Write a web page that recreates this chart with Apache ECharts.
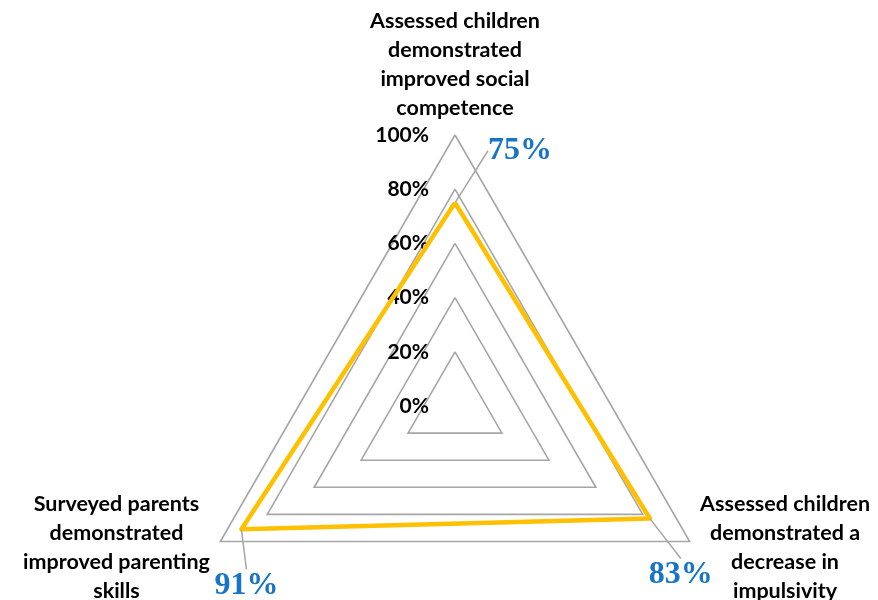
<!DOCTYPE html>
<html><head><meta charset="utf-8">
<script src="https://cdn.jsdelivr.net/npm/echarts@6/dist/echarts.min.js"></script>
<style>html,body{margin:0;padding:0;background:#fff}#c{width:878px;height:600px}</style>
</head><body><div id="c"></div>
<script>
// Indicators in ECharts order (counter-clockwise from top)
const categories = [
  'Assessed children\ndemonstrated\nimproved social\ncompetence',
  'Surveyed parents\ndemonstrated\nimproved parenting\nskills',
  'Assessed children\ndemonstrated a\ndecrease in\nimpulsivity'
];
const values = [75, 91, 83];
const tickLabels = ['0%', '20%', '40%', '60%', '80%', '100%'];
const labelOffsets = [[65, -52], [5, 56], [31, 56]];

const chart = echarts.init(document.getElementById('c'), null, {renderer: 'canvas'});
const valueTexts = values.map(v => v + '%');
chart.setOption({
  animation: false,
  backgroundColor: '#fff',
  radar: {
    center: [455, 406],
    radius: 271,
    startAngle: 90,
    shape: 'polygon',
    splitNumber: 5,
    nameGap: 12,
    indicator: categories.map((c, i) => ({
      name: c, min: 0, max: 100,
      axisLabel: {show: i === 0}
    })),
    axisName: {
      formatter: (name) => name.split('\n').map(s => '{n|' + s + '}').join('\n'),
      rich: {
        n: {fontFamily: 'Lato', fontWeight: 'bold', fontSize: 21.5, lineHeight: 29, color: '#000', align: 'center'}
      }
    },
    axisLine: {show: false},
    axisTick: {show: false},
    axisLabel: {
      show: false,
      margin: 26,
      formatter: (v) => tickLabels[Math.round(v / 20)],
      fontFamily: 'Lato', fontWeight: 'bold', fontSize: 21, color: '#000'
    },
    splitLine: {lineStyle: {color: '#a6a6a6', width: 1.6}},
    splitArea: {show: false}
  },
  series: [{
    type: 'radar',
    symbol: 'circle',
    symbolSize: 1,
    lineStyle: {color: '#FFC000', width: 4.5},
    itemStyle: {color: '#FFC000'},
    label: {
      show: true,
      position: 'inside',
      formatter: (p) => p.value + '%',
      fontFamily: 'Liberation Serif', fontWeight: 'bold', fontSize: 32, color: '#1874C4'
    },
    labelLine: {show: true, lineStyle: {color: '#a6a6a6', width: 1.5}},
    labelLayout: function (params) {
      const i = valueTexts.indexOf(params.text);
      if (i < 0) return {};
      return {dx: labelOffsets[i][0], dy: labelOffsets[i][1]};
    },
    data: [{value: values}]
  }]
});
</script></body></html>
